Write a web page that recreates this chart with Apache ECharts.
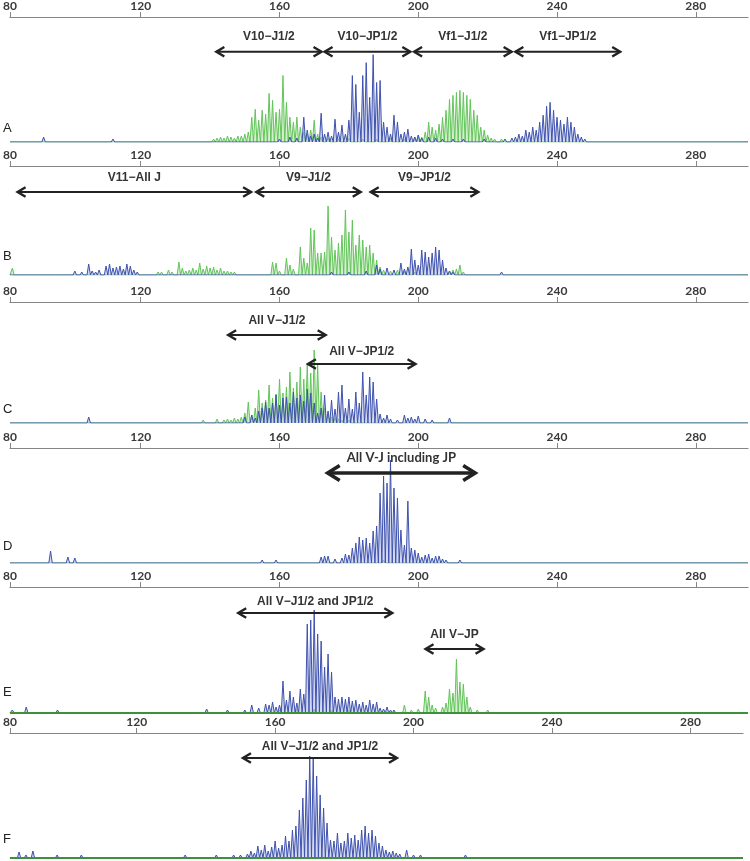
<!DOCTYPE html>
<html><head><meta charset="utf-8">
<script src="https://cdn.jsdelivr.net/npm/echarts@6/dist/echarts.min.js"></script>
<style>html,body{margin:0;padding:0;background:#fff}#c{width:750px;height:861px}</style>
</head><body><div id="c"></div>
<script>
// ---------- data (fragment size in bp, peak height in relative units) ----------
const tickLabels = [80,120,160,200,240,280];
const panelLetters = ['A','B','C','D','E','F'];

const A_green = [[93,2],[104,2],[118,2],[131,2],[141,3],[142,4],[143,5],[144,4],[145,6],[146,5],[147,4],[148,6],[149,6],[150,8],[151,10],[152,25],[153,33],[154,22],[155,32],[156,28],[157,49],[158,42],[159,30],[160,33],[161,67],[162,40],[163,25],[164,20],[165,25],[166,15],[167,10],[168,8],[169,12],[170,22],[171,8],[172,5],[174,4],[177,3],[180,4],[184,3],[188,3],[192,4],[196,3],[199,5],[200,7],[201,5],[202,10],[203,20],[204,15],[205,12],[206,18],[207,25],[208,32],[209,43],[210,47],[211,50],[212,52],[213,50],[214,47],[215,43],[216,32],[217,27],[218,15],[219,12],[220,7],[221,4],[222,3],[224,3],[226,2],[250,2],[262,2],[275,2],[288,2]];
const A_blue = [[92,5],[97,2],[105,2],[112,3],[127,2],[160,3],[163,5],[165,4],[167,25],[168,12],[169,6],[170,8],[171,4],[172,29],[173,8],[174,10],[175,6],[176,23],[177,10],[178,17],[179,8],[180,22],[181,67],[182,58],[183,30],[184,67],[185,80],[186,45],[187,88],[188,60],[189,62],[190,20],[191,15],[192,8],[193,27],[194,20],[195,8],[196,10],[197,13],[198,6],[199,5],[200,7],[201,4],[203,5],[205,4],[207,3],[210,3],[213,3],[216,2],[219,3],[222,2],[225,3],[227,4],[228,5],[229,8],[230,6],[231,12],[232,10],[233,15],[234,12],[235,20],[236,27],[237,36],[238,40],[239,32],[240,25],[241,22],[242,18],[243,25],[244,20],[245,15],[246,8],[247,5],[248,3]];

const B_green = [[83,7],[88,2],[95,2],[125,3],[126,3],[128,5],[129,3],[131,13],[132,7],[133,4],[134,5],[135,7],[136,5],[137,12],[138,6],[139,9],[140,7],[141,8],[142,5],[143,7],[144,4],[145,4],[146,3],[147,3],[148,2],[158,13],[159,12],[160,4],[162,17],[163,10],[164,6],[166,28],[167,17],[168,12],[169,47],[170,45],[171,22],[172,22],[173,23],[174,69],[175,38],[176,25],[177,32],[178,40],[179,65],[180,43],[181,55],[182,30],[183,40],[184,35],[185,28],[186,30],[187,22],[188,15],[189,8],[190,5],[192,4],[194,5],[196,4],[199,3],[209,4],[210,5],[211,6],[212,10],[213,3],[230,2],[245,2],[260,2],[280,2]];
const B_blue = [[90,2],[96,2],[98,2],[101,4],[103,3],[105,11],[106,4],[107,3],[108,5],[110,9],[111,11],[112,7],[113,8],[114,9],[115,6],[116,11],[117,9],[118,5],[119,3],[120,2],[150,2],[165,2],[175,3],[180,3],[185,4],[188,10],[189,6],[191,7],[193,5],[195,12],[196,6],[197,8],[198,26],[199,15],[200,10],[201,25],[202,23],[203,18],[204,22],[205,28],[206,25],[207,15],[208,7],[209,4],[210,3],[224,3]];

const C_green = [[90,2],[100,2],[112,2],[125,2],[133,2],[138,3],[140,2],[142,4],[144,3],[145,4],[146,3],[147,5],[148,4],[149,6],[150,10],[151,21],[152,8],[153,15],[154,33],[155,20],[156,23],[157,38],[158,25],[159,29],[160,44],[161,30],[162,36],[163,51],[164,35],[165,41],[166,56],[167,44],[168,59],[169,50],[170,73],[171,58],[172,31],[173,15],[174,8],[175,6],[176,5],[177,4],[178,3],[180,3],[184,2],[190,2],[200,2],[215,2],[240,2],[270,2]];
const C_blue = [[105,6],[118,2],[130,2],[145,2],[150,6],[152,8],[153,5],[154,12],[155,15],[156,21],[157,15],[158,20],[159,28],[160,18],[161,25],[162,26],[163,20],[164,31],[165,25],[166,28],[167,22],[168,34],[169,30],[170,20],[171,10],[172,15],[173,28],[174,12],[175,23],[176,14],[177,31],[178,38],[179,15],[180,24],[181,14],[182,31],[183,20],[184,51],[185,28],[186,46],[187,41],[188,24],[189,9],[190,5],[191,8],[192,4],[194,3],[196,8],[197,5],[198,6],[199,4],[200,7],[202,4],[204,3],[209,5],[212,2]];

const D_green = [[120,2],[170,2],[190,3],[195,2],[215,2],[250,2]];
const D_blue = [[84,2],[88,2],[94,12],[99,6],[101,5],[108,2],[118,2],[130,2],[140,2],[150,2],[155,3],[159,3],[167,2],[172,6],[173,7],[174,7],[176,4],[178,5],[179,9],[180,8],[181,15],[182,20],[183,26],[184,23],[185,25],[186,20],[187,32],[188,37],[189,70],[190,87],[191,80],[192,103],[193,75],[194,65],[195,33],[196,18],[197,62],[198,15],[199,13],[200,10],[201,6],[202,8],[203,9],[204,5],[205,7],[206,7],[207,4],[208,3],[212,3],[230,2],[255,2],[275,2]];

const E_green = [[95,2],[130,2],[150,2],[160,3],[165,4],[170,4],[175,3],[180,3],[185,2],[196,8],[198,3],[200,4],[202,22],[203,16],[204,8],[205,5],[207,6],[208,10],[209,24],[210,20],[211,54],[212,31],[213,29],[214,16],[215,6],[217,3],[220,3],[224,2]];
const E_blue = [[83,3],[87,6],[96,3],[108,2],[120,2],[131,2],[139,4],[145,3],[150,3],[152,8],[154,5],[156,9],[157,8],[158,11],[159,6],[160,8],[161,32],[162,13],[163,22],[164,16],[165,10],[166,24],[167,19],[168,89],[169,93],[170,103],[171,79],[172,72],[173,46],[174,59],[175,41],[176,16],[177,14],[178,16],[179,14],[180,16],[181,12],[182,13],[183,9],[184,11],[185,8],[186,13],[187,9],[188,11],[189,5],[190,4],[191,6],[192,3],[193,3],[194,2],[263,2]];

const F_green = [[160,2],[175,2]];
const F_blue = [[86,6],[88,3],[90,7],[97,3],[104,3],[110,2],[116,2],[122,2],[128,2],[134,3],[143,3],[148,3],[150,3],[152,4],[153,7],[154,5],[155,12],[156,8],[157,13],[158,7],[159,11],[160,17],[161,10],[162,13],[163,22],[164,17],[165,28],[166,32],[167,48],[168,60],[169,78],[170,102],[171,100],[172,82],[173,63],[174,50],[175,35],[176,18],[177,17],[178,25],[179,15],[180,17],[181,25],[182,20],[183,23],[184,18],[185,28],[186,32],[187,25],[188,28],[189,22],[190,15],[191,12],[192,8],[193,6],[194,7],[195,5],[196,4],[198,8],[200,3],[202,3],[206,2],[215,3],[222,2],[243,2],[253,2]];

// arrow ranges [start bp, end bp, label]
const A_arrows = [[141.5,172.4,'V10\u2212J1/2'],[172.7,198,'V10\u2212JP1/2'],[198.5,227.2,'Vf1\u2212J1/2'],[227.7,258.5,'Vf1\u2212JP1/2']];
const B_arrows = [[84.2,152.1,'V11\u2212All J'],[153,183.7,'V9\u2212J1/2'],[186,217.6,'V9\u2212JP1/2']];
const C_arrows = [[144.9,173.6,'All V\u2212J1/2'],[167.9,199.5,'All V\u2212JP1/2']];
const D_arrows = [[173.6,216.7,'All V-J including JP']];
const E_arrows = [[147.8,192.8,'All V\u2212J1/2 and JP1/2'],[201.8,219.1,'All V\u2212JP']];
const F_arrows = [[150.4,195.5,'All V\u2212J1/2 and JP1/2']];

const greens = [A_green,B_green,C_green,D_green,E_green,F_green];
const blues = [A_blue,B_blue,C_blue,D_blue,E_blue,F_blue];
const arrows = [A_arrows,B_arrows,C_arrows,D_arrows,E_arrows,F_arrows];

// ---------- layout / style ----------
const layout = [
  {top:16, h:126, left:7, width:741, min:82.3, max:295.05, letterY:128, ay:[91,91,91,91], off:[15.5,15.5,15.5,15.5]},
  {top:166,h:109, left:7, width:741, min:82.3, max:295.05, letterY:256, ay:[83,83,83], off:[14,14,14]},
  {top:302,h:121, left:7, width:741, min:82.3, max:295.05, letterY:409, ay:[88,59], off:[14,12.5]},
  {top:448,h:115, left:7, width:741, min:82.3, max:295.05, letterY:546, ay:[90], off:[15]},
  {top:587,h:126, left:7, width:741, min:82.3, max:295.05, letterY:692, ay:[100,64], off:[11.5,14]},
  {top:733,h:125, left:7, width:736, min:83.37,max:295.2, letterY:839, ay:[100], off:[11]}
];
const darkBase = [false,false,false,false,true,true];

function trace(peaks, lo, hi){
  const pts=[[lo,0]];
  peaks.slice().sort((a,b)=>a[0]-b[0]).forEach(([x,h])=>{pts.push([x-0.5,0],[x,h],[x+0.5,0]);});
  pts.push([hi,0]);
  return pts;
}

const grids=[], xAxes=[], yAxes=[], series=[], graphics=[];
layout.forEach((L,i)=>{
  grids.push({left:L.left, top:L.top, width:L.width, height:L.h});
  const tv=[L.min].concat(tickLabels.slice(1));
  xAxes.push({type:'value', gridIndex:i, position:'top', min:L.min, max:L.max,
    axisLine:{show:true, onZero:false, lineStyle:{color:'#858585', width:1.2}},
    axisTick:{show:true, length:5, customValues:tv, lineStyle:{color:'#858585', width:1}},
    axisLabel:{show:true, customValues:tv, margin:5, hideOverlap:false,
      formatter:(v)=>Math.abs(v-L.min)<0.01?String(tickLabels[0]):String(Math.round(v)),
      fontFamily:'Lato', fontWeight:'bold', fontSize:12, color:'#3a3a3a'},
    splitLine:{show:false}});
  yAxes.push({type:'value', gridIndex:i, min:0, max:L.h, show:false});
  series.push({type:'line', xAxisIndex:i, yAxisIndex:i, data:trace(greens[i],L.min,L.max), showSymbol:false, silent:true,
    lineStyle:{color:'#62c45a', width:1}, areaStyle:{color:'#c4e9bb', opacity:0.75}, z:2});
  series.push({type:'line', xAxisIndex:i, yAxisIndex:i, data:trace(blues[i],L.min,L.max), showSymbol:false, silent:true,
    lineStyle:{color:'#3e52ae', width:1}, areaStyle:{color:'#aab4e3', opacity:0.5}, z:3});
  if(darkBase[i]){
    series.push({type:'line', xAxisIndex:i, yAxisIndex:i, data:[[L.min,0],[L.max,0]], showSymbol:false, silent:true,
      lineStyle:{color:'#3f8f3c', width:2}, z:4});
  }
  const thick = (i===3);
  series.push({type:'custom', xAxisIndex:i, yAxisIndex:i, silent:true, clip:false, z:6,
    encode:{x:[0,1], y:2},
    data: arrows[i].map((a,k)=>[a[0],a[1],L.ay[k]]),
    renderItem:(params, api)=>{
      const k=params.dataIndex, a=arrows[i][k];
      const p1=api.coord([api.value(0),api.value(2)]), p2=api.coord([api.value(1),api.value(2)]);
      const y=p1[1];
      const hl = thick?13:9, hh = thick?7.5:4.8, lw = thick?3.4:2, hw = thick?3.6:2.4;
      const col='#222';
      return {type:'group', children:[
        {type:'line', shape:{x1:p1[0]+1,y1:y,x2:p2[0]-1,y2:y}, style:{stroke:col, lineWidth:lw}},
        {type:'polyline', shape:{points:[[p1[0]+hl,y-hh],[p1[0]+1,y],[p1[0]+hl,y+hh]]}, style:{stroke:col, lineWidth:hw, fill:null, lineJoin:'miter'}},
        {type:'polyline', shape:{points:[[p2[0]-hl,y-hh],[p2[0]-1,y],[p2[0]-hl,y+hh]]}, style:{stroke:col, lineWidth:hw, fill:null, lineJoin:'miter'}},
        {type:'text', x:(p1[0]+p2[0])/2, y:y-L.off[k], style:{text:a[2], fill:'#333',
          font: thick?'bold 13px Lato':'bold 12px "Liberation Sans"', align:'center', verticalAlign:'middle'}}
      ]};
    }});
  graphics.push({type:'text', x:3, y:L.letterY, style:{text:panelLetters[i], fill:'#222', font:'13px "Liberation Sans"', verticalAlign:'middle'}});
});

const chart = echarts.init(document.getElementById('c'), null, {renderer:'canvas'});
chart.setOption({animation:false, grid:grids, xAxis:xAxes, yAxis:yAxes, series:series, graphic:{elements:graphics}});
</script></body></html>
